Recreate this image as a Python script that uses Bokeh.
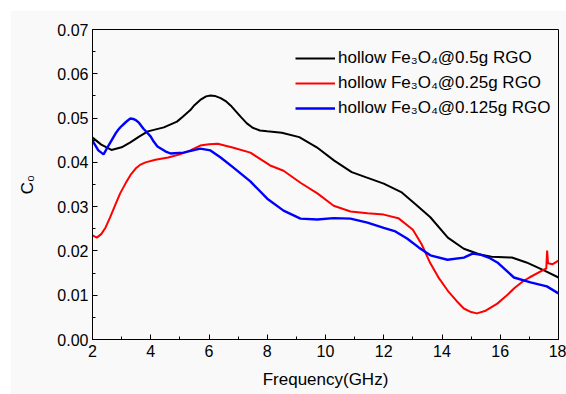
from bokeh.plotting import figure
from bokeh.models import FixedTicker, PrintfTickFormatter, Legend, LegendItem, Range1d
from bokeh.embed import file_html
from bokeh.resources import INLINE

# --- data ---
f_05 = [2.0, 2.3, 2.65, 3.0, 3.3, 3.6, 3.9, 4.45, 4.9, 5.1, 5.36, 5.5, 5.7, 5.9, 6.05, 6.2, 6.4, 6.6, 6.75,
        6.9, 7.1, 7.3, 7.5, 7.75, 8.0, 8.5, 9.1, 9.7, 10.3, 10.9, 11.4, 12.0, 12.6, 13.1, 13.6, 14.2,
        14.75, 15.3, 15.7, 16.4, 16.9, 17.5, 18.0]
c_05 = [0.0456, 0.0440, 0.0428, 0.0434, 0.0445, 0.0458, 0.0470, 0.0479, 0.0492, 0.0503, 0.0518, 0.0529, 0.0541,
        0.0549, 0.0551, 0.0550, 0.0545, 0.0537, 0.0528, 0.0517, 0.0502, 0.0488, 0.0478, 0.0472, 0.0470,
        0.0467, 0.0457, 0.0434, 0.0404, 0.0378, 0.0366, 0.0352, 0.0333, 0.0305, 0.0276, 0.0230,
        0.0205, 0.0192, 0.0187, 0.0185, 0.0174, 0.0156, 0.0140]

f_025 = [2.0, 2.15, 2.3, 2.45, 2.6, 2.8, 2.95, 3.13, 3.3, 3.48, 3.65, 3.82, 4.16, 4.6, 5.0, 5.36, 5.7,
         6.0, 6.3, 6.84, 7.42, 8.1, 8.56, 9.14, 9.72, 10.28, 10.86, 11.44, 12.0, 12.5, 13.0, 13.3, 13.6,
         13.9, 14.2, 14.5, 14.75, 15.0, 15.2, 15.5, 15.9, 16.2, 16.5, 16.75, 17.0, 17.5, 17.58, 17.61,
         17.64, 17.8, 18.0]
c_025 = [0.0235, 0.0230, 0.0238, 0.0253, 0.0275, 0.0307, 0.0330, 0.0352, 0.0371, 0.0386, 0.0395, 0.0400,
         0.0406, 0.0411, 0.0418, 0.0427, 0.0438, 0.0441, 0.0442, 0.0433, 0.0422, 0.0393, 0.0381, 0.0354,
         0.0330, 0.0302, 0.0289, 0.0285, 0.0282, 0.0274, 0.0248, 0.0215, 0.0172, 0.0138, 0.0110, 0.0087,
         0.0070, 0.0062, 0.0059, 0.0065, 0.0081, 0.0098, 0.0117, 0.0130, 0.0140, 0.0158, 0.0160, 0.0201,
         0.0172, 0.0170, 0.0178]

f_0125 = [2.0, 2.2, 2.38, 2.55, 2.79, 2.9, 3.0, 3.13, 3.2, 3.3, 3.4, 3.5, 3.6, 3.75, 3.85, 4.0, 4.1, 4.23,
          4.5, 4.68, 5.12, 5.7, 6.05, 6.4, 6.84, 7.42, 8.0, 8.56, 9.14, 9.72, 10.28, 10.86, 11.44, 12.0,
          12.4, 12.8, 13.2, 13.6, 14.19, 14.75, 15.05, 15.3, 15.6, 15.9, 16.47, 17.04, 17.6, 18.0]
c_0125 = [0.0449, 0.0427, 0.0418, 0.0438, 0.0465, 0.0475, 0.0482, 0.0490, 0.0494, 0.0499, 0.0498, 0.0495,
          0.0489, 0.0476, 0.0469, 0.0458, 0.0447, 0.0436, 0.0425, 0.0420, 0.0422, 0.0431, 0.0427, 0.0411,
          0.0388, 0.0357, 0.0318, 0.0291, 0.0273, 0.0271, 0.0274, 0.0273, 0.0264, 0.0252, 0.0244, 0.0228,
          0.0208, 0.0190, 0.0180, 0.0185, 0.0194, 0.0192, 0.0185, 0.0174, 0.0140, 0.0129, 0.0120, 0.0104]

labels = ["hollow Fe\u2083O\u2084@0.5g RGO", "hollow Fe\u2083O\u2084@0.25g RGO", "hollow Fe\u2083O\u2084@0.125g RGO"]
colors = ["black", "#ff0000", "#0000ff"]
x_ticks = [2, 4, 6, 8, 10, 12, 14, 16, 18]
y_ticks = [0.00, 0.01, 0.02, 0.03, 0.04, 0.05, 0.06, 0.07]

FONT = "Liberation Sans"
BG = "#f9f9f9"

p = figure(width=556, height=384, output_backend="svg", toolbar_location=None,
           x_range=Range1d(2, 18), y_range=Range1d(0, 0.07),
           min_border_left=82, min_border_right=8, min_border_top=19, min_border_bottom=55,
           background_fill_color=BG, border_fill_color=BG, margin=(10, 0, 0, 10))
p.grid.visible = False
p.outline_line_color = "black"
p.outline_line_width = 1

r1 = p.line(f_05, c_05, color=colors[0], line_width=2)
r2 = p.line(f_025, c_025, color=colors[1], line_width=2)
r3 = p.line(f_0125, c_0125, color=colors[2], line_width=2.4)

for ax in (p.xaxis[0], p.yaxis[0]):
    ax.major_tick_in = 5
    ax.major_tick_out = 0
    ax.minor_tick_in = 3
    ax.minor_tick_out = 0
    ax.axis_line_color = "black"
    ax.major_tick_line_color = "black"
    ax.minor_tick_line_color = "black"
    ax.major_label_text_font = FONT
    ax.major_label_text_font_size = "16px"
    ax.major_label_text_color = "black"
    ax.axis_label_text_font = FONT
    ax.axis_label_text_font_size = "17px"
    ax.axis_label_text_font_style = "normal"
    ax.axis_label_text_color = "black"

p.xaxis.ticker = FixedTicker(ticks=x_ticks, minor_ticks=[3, 5, 7, 9, 11, 13, 15, 17])
p.yaxis.ticker = FixedTicker(ticks=y_ticks, minor_ticks=[0.005, 0.015, 0.025, 0.035, 0.045, 0.055, 0.065])
p.yaxis.formatter = PrintfTickFormatter(format="%.2f")
p.xaxis.axis_label = "Frequency(GHz)"
p.yaxis.axis_label = "C\u2080"
p.xaxis.major_label_standoff = 5
p.yaxis.major_label_standoff = 4
p.xaxis.axis_label_standoff = 10
p.yaxis.axis_label_standoff = 17

legend = Legend(items=[LegendItem(label=labels[0], renderers=[r1]),
                       LegendItem(label=labels[1], renderers=[r2]),
                       LegendItem(label=labels[2], renderers=[r3])],
                location=(203, 221), background_fill_alpha=0, border_line_alpha=0,
                label_text_font=FONT, label_text_font_size="17px", label_text_color="black",
                glyph_width=40, glyph_height=20, label_height=20, spacing=5, padding=0,
                margin=0, label_standoff=3)
p.add_layout(legend)

open("out.html", "w").write(file_html(p, INLINE))
